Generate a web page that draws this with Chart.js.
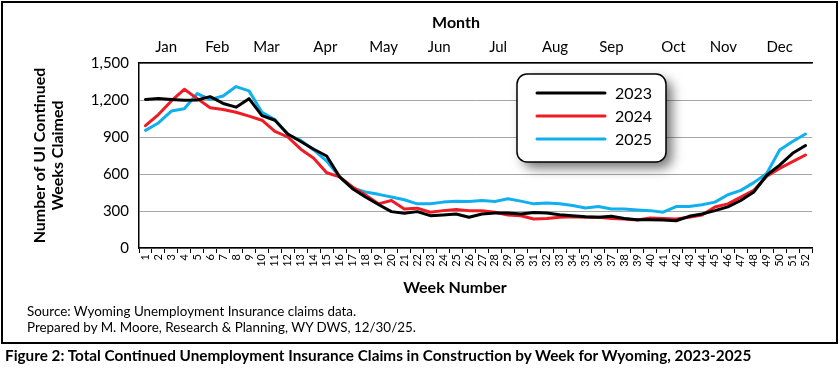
<!DOCTYPE html>
<html>
<head>
<meta charset="utf-8">
<script src="https://cdn.jsdelivr.net/npm/chart.js@4.4.1/dist/chart.umd.min.js"></script>
<style>
  html, body { margin: 0; padding: 0; background: #fff; }
  body { width: 840px; height: 374px; position: relative; overflow: hidden; font-family: Lato, sans-serif; color: #000; }
  #chart { position: absolute; left: 0; top: 0; }
  .frame { position: absolute; left: 1px; top: 1px; width: 837px; height: 343px; box-sizing: border-box; border: 2px solid #000; pointer-events: none; }
  .txt { position: absolute; white-space: nowrap; }
  .axis-title { font-weight: bold; font-size: 16px; line-height: 20px; }
  .note { font-size: 13.4px; line-height: 16px; left: 27px; }
  .caption { font-weight: bold; font-size: 15.3px; line-height: 18px; left: 5px; top: 346px; }
</style>
</head>
<body>
<canvas id="chart" width="840" height="374"></canvas>
<div class="frame"></div>
<div class="txt axis-title" style="left:0;width:912px;text-align:center;top:12px;">Month</div>
<div class="txt axis-title" style="left:0;width:910px;text-align:center;top:277px;">Week Number</div>
<div class="txt note" style="top:303px;">Source: Wyoming Unemployment Insurance claims data.</div>
<div class="txt note" style="top:319px;">Prepared by M. Moore, Research &amp; Planning, WY DWS, 12/30/25.</div>
<div class="txt caption">Figure 2: Total Continued Unemployment Insurance Claims in Construction by Week for Wyoming, 2023-2025</div>
<script>
// ========== DATA ==========
const weekLabels = Array.from({ length: 52 }, (_, i) => String(i + 1));

const monthNames = ["Jan", "Feb", "Mar", "Apr", "May", "Jun", "Jul", "Aug", "Sep", "Oct", "Nov", "Dec"];
// week number under the middle of each month label
const monthWeeks = [2.6, 6.55, 10.35, 14.9, 19.4, 23.7, 28.25, 32.65, 37.0, 41.8, 45.65, 50.0];

const yTicks = [0, 300, 600, 900, 1200, 1500];

const claims2023 = [1205, 1213, 1205, 1197, 1200, 1227, 1172, 1142, 1211, 1074, 1036, 924, 864, 801, 746,
  577, 481, 413, 353, 295, 281, 295, 262, 268, 276, 249, 276, 284, 284,
  276, 287, 284, 270, 262, 254, 249, 257, 240, 230, 230, 227, 221, 257, 276, 303, 333, 385, 454, 590, 672, 768, 831];

const claims2024 = [992, 1082, 1192, 1287, 1211, 1137, 1123, 1101, 1069, 1036, 946, 900, 801, 727, 610,
  577, 495, 430, 358, 385, 317, 323, 290, 303, 312, 303, 303, 290, 268,
  262, 235, 240, 249, 254, 249, 249, 240, 235, 227, 243, 240, 235, 249, 268, 333, 358, 413, 467, 582, 645, 700, 754];

const claims2025 = [954, 1014, 1110, 1129, 1252, 1205, 1233, 1309, 1274, 1101, 1041, 918, 872, 795, 705,
  577, 486, 454, 435, 413, 391, 358, 358, 372, 380, 377, 385, 377, 399,
  380, 358, 364, 358, 344, 325, 336, 317, 317, 309, 303, 290, 336, 336, 350, 372, 432, 467, 530, 604, 795, 864, 924];

// ========== LEGEND (boxed, with shadow) ==========
const boxLegend = {
  id: "boxLegend",
  afterDatasetsDraw(chart) {
    const c = chart.ctx;
    const x = 517, y = 74, w = 149, h = 88, r = 10;
    c.save();
    c.shadowColor = "rgba(0,0,0,0.55)";
    c.shadowBlur = 12;
    c.shadowOffsetX = 6;
    c.shadowOffsetY = 6;
    c.beginPath();
    c.roundRect(x, y, w, h, r);
    c.fillStyle = "#fff";
    c.fill();
    c.restore();

    c.save();
    c.beginPath();
    c.roundRect(x, y, w, h, r);
    c.lineWidth = 1.5;
    c.strokeStyle = "#000";
    c.stroke();
    c.font = "16px Lato";
    c.textBaseline = "middle";
    c.fillStyle = "#000";
    chart.data.datasets.forEach((ds, i) => {
      const ly = y + 19 + i * 23;
      c.beginPath();
      c.moveTo(x + 20, ly);
      c.lineTo(x + 88, ly);
      c.lineWidth = 3;
      c.lineCap = "round";
      c.strokeStyle = ds.borderColor;
      c.stroke();
      c.fillText(ds.label, x + 98, ly + 1);
    });
    c.restore();
  }
};

// ========== CHART ==========
Chart.defaults.font.family = "Lato, sans-serif";
Chart.defaults.color = "#000";

function line(label, data, color) {
  return {
    label: label,
    data: data,
    borderColor: color,
    backgroundColor: color,
    borderWidth: 3,
    pointRadius: 0,
    tension: 0,
    borderJoinStyle: "round",
    borderCapStyle: "round",
    xAxisID: "x",
    yAxisID: "y"
  };
}

new Chart(document.getElementById("chart"), {
  type: "line",
  data: {
    labels: weekLabels,
    datasets: [
      line("2023", claims2023, "#000000"),
      line("2024", claims2024, "#ee1c25"),
      line("2025", claims2025, "#10b0ee")
    ]
  },
  options: {
    responsive: false,
    animation: false,
    layout: { padding: { left: 0, right: 28, top: 0, bottom: 0 } },
    plugins: {
      legend: { display: false },
      tooltip: { enabled: false }
    },
    scales: {
      x: {
        type: "category",
        position: "bottom",
        offset: true,
        grid: { offset: true, drawOnChartArea: false, drawTicks: true, tickLength: 5, color: "#000", lineWidth: 1 },
        border: { color: "#000", width: 1.5 },
        ticks: { autoSkip: false, minRotation: 90, maxRotation: 90, padding: 1, font: { size: 11 } },
        afterFit(s) { s.height = 374 - 248; }
      },
      x2: {
        type: "linear",
        position: "top",
        min: 0.5,
        max: 52.5,
        grid: { display: false, drawTicks: false, drawOnChartArea: false },
        border: { color: "#000", width: 1.5 },
        ticks: {
          autoSkip: false,
          maxRotation: 0,
          padding: 7,
          font: { size: 15 },
          callback: (v, i) => monthNames[i]
        },
        afterBuildTicks(s) { s.ticks = monthWeeks.map(v => ({ value: v })); },
        afterFit(s) { s.height = 63; }
      },
      y: {
        min: 0,
        max: 1500,
        afterBuildTicks(s) { s.ticks = yTicks.map(v => ({ value: v })); },
        ticks: { padding: 10, font: { size: 15 }, callback: v => v.toLocaleString("en-US") },
        grid: { color: "#a6a6a6", lineWidth: 1, drawTicks: false },
        border: { color: "#000", width: 1.5 },
        title: {
          display: true,
          text: ["Number of UI Continued", "Weeks Claimed"],
          font: { size: 16, weight: "bold", lineHeight: 1.1 },
          padding: { top: 31, bottom: 0 }
        },
        afterFit(s) { s.width = 139; }
      }
    }
  },
  plugins: [boxLegend]
});
</script>
</body>
</html>
